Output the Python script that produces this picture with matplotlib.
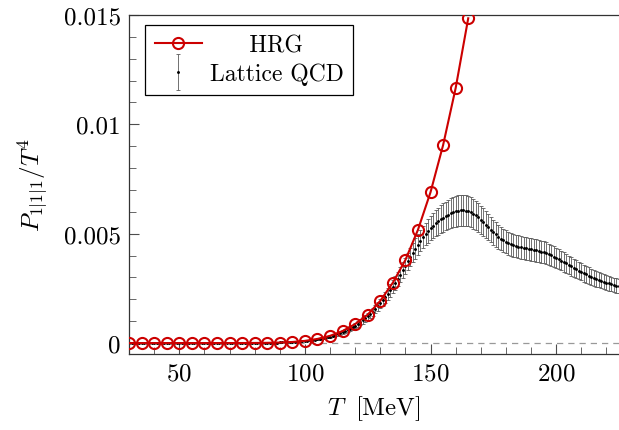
import matplotlib
matplotlib.use("Agg")
import matplotlib.pyplot as plt
from matplotlib.ticker import MultipleLocator, FixedLocator, FixedFormatter
from matplotlib.legend_handler import HandlerErrorbar
import numpy as np

plt.rcParams["font.family"] = "serif"
plt.rcParams["font.serif"] = ["cmr10", "DejaVu Serif"]
plt.rcParams["mathtext.fontset"] = "cm"
plt.rcParams["axes.unicode_minus"] = False
plt.rcParams["axes.formatter.use_mathtext"] = True

# --- HRG curve (T in MeV, value in 1e-3 units) ---
hrg_T = [30, 35, 40, 45, 50, 55, 60, 65, 70, 75, 80, 85, 90, 95, 100,
         105, 110, 115, 120, 125, 130, 135, 140, 145, 150, 155, 160, 165]
hrg_val = [0.0, 0.0, 0.0, 0.0, 0.0, 0.0, 0.0003, 0.0005, 0.001, 0.002,
           0.005, 0.011, 0.024, 0.05, 0.10, 0.19, 0.33, 0.55, 0.87, 1.30,
           1.93, 2.76, 3.80, 5.18, 6.90, 9.05, 11.66, 14.85]

# --- Lattice QCD, 1 MeV steps from 30 to 225 (value and error in 1e-3) ---
lat_T = list(range(30, 226))
lat_val = [
    # 30-59
    0, 0, 0, 0, 0, 0, 0, 0, 0, 0,
    0, 0, 0, 0, 0, 0, 0, 0, 0, 0,
    0, 0, 0, 0, 0, 0, 0, 0, 0, 0,
    # 60-69
    0.001, 0.001, 0.001, 0.001, 0.001, 0.001, 0.001, 0.001, 0.001, 0.001,
    # 70-79
    0.001, 0.002, 0.002, 0.002, 0.003, 0.003, 0.004, 0.004, 0.005, 0.006,
    # 80-89
    0.007, 0.008, 0.009, 0.010, 0.012, 0.014, 0.016, 0.018, 0.021, 0.024,
    # 90-99
    0.028, 0.032, 0.037, 0.042, 0.048, 0.055, 0.062, 0.070, 0.079, 0.089,
    # 100-109
    0.100, 0.112, 0.125, 0.140, 0.157, 0.175, 0.195, 0.218, 0.243, 0.270,
    # 110-119
    0.300, 0.333, 0.369, 0.408, 0.451, 0.498, 0.549, 0.604, 0.663, 0.727,
    # 120-129
    0.796, 0.870, 0.950, 1.035, 1.126, 1.223, 1.327, 1.437, 1.554, 1.678,
    # 130-139
    1.809, 1.948, 2.094, 2.248, 2.410, 2.580, 2.757, 2.941, 3.132, 3.328,
    # 140-149
    3.528, 3.730, 3.932, 4.130, 4.322, 4.505, 4.678, 4.840, 4.990, 5.128,
    # 150-159
    5.254, 5.370, 5.476, 5.572, 5.660, 5.740, 5.812, 5.876, 5.932, 5.980,
    # 160-169
    6.020, 6.050, 6.068, 6.072, 6.060, 6.030, 5.982, 5.916, 5.836, 5.744,
    # 170-179
    5.642, 5.532, 5.418, 5.302, 5.186, 5.072, 4.964, 4.864, 4.774, 4.694,
    # 180-189
    4.624, 4.564, 4.514, 4.472, 4.438, 4.405, 4.376, 4.350, 4.326, 4.304,
    # 190-199
    4.282, 4.260, 4.236, 4.210, 4.180, 4.146, 4.106, 4.060, 4.010, 3.956,
    # 200-209
    3.898, 3.836, 3.772, 3.706, 3.640, 3.574, 3.508, 3.442, 3.378, 3.316,
    # 210-219
    3.256, 3.198, 3.142, 3.088, 3.036, 2.986, 2.938, 2.892, 2.848, 2.806,
    # 220-225
    2.766, 2.728, 2.692, 2.658, 2.626, 2.596,
]
lat_err = [
    # 30-89
    0, 0, 0, 0, 0, 0, 0, 0, 0, 0,
    0, 0, 0, 0, 0, 0, 0, 0, 0, 0,
    0, 0, 0, 0, 0, 0, 0, 0, 0, 0,
    0, 0, 0, 0, 0, 0, 0, 0, 0, 0,
    0.001, 0.001, 0.001, 0.001, 0.001, 0.002, 0.002, 0.002, 0.002, 0.003,
    0.003, 0.003, 0.003, 0.004, 0.004, 0.004, 0.004, 0.004, 0.005, 0.005,
    # 90-99
    0.005, 0.006, 0.007, 0.008, 0.009, 0.010, 0.011, 0.012, 0.014, 0.016,
    # 100-109
    0.018, 0.020, 0.022, 0.025, 0.028, 0.031, 0.034, 0.038, 0.042, 0.046,
    # 110-119
    0.050, 0.055, 0.060, 0.066, 0.072, 0.078, 0.085, 0.092, 0.100, 0.108,
    # 120-129
    0.116, 0.125, 0.134, 0.144, 0.154, 0.165, 0.176, 0.188, 0.200, 0.213,
    # 130-139
    0.226, 0.240, 0.254, 0.268, 0.283, 0.298, 0.313, 0.328, 0.343, 0.358,
    # 140-149
    0.380, 0.400, 0.420, 0.440, 0.460, 0.475, 0.490, 0.505, 0.520, 0.535,
    # 150-159
    0.550, 0.570, 0.590, 0.610, 0.630, 0.645, 0.660, 0.672, 0.683, 0.692,
    # 160-169
    0.700, 0.705, 0.708, 0.708, 0.705, 0.700, 0.692, 0.682, 0.670, 0.657,
    # 170-179
    0.643, 0.628, 0.613, 0.598, 0.583, 0.569, 0.556, 0.545, 0.536, 0.529,
    # 180-189
    0.524, 0.520, 0.518, 0.517, 0.517, 0.517, 0.517, 0.517, 0.517, 0.516,
    # 190-199
    0.515, 0.513, 0.511, 0.508, 0.504, 0.500, 0.495, 0.489, 0.483, 0.476,
    # 200-209
    0.469, 0.461, 0.453, 0.445, 0.437, 0.429, 0.421, 0.413, 0.405, 0.398,
    # 210-219
    0.391, 0.384, 0.378, 0.372, 0.366, 0.361, 0.356, 0.351, 0.347, 0.343,
    # 220-225
    0.339, 0.336, 0.333, 0.330, 0.327, 0.325,
]

yticks = [0, 0.005, 0.01, 0.015]
ytick_labels = ["0", "0.005", "0.01", "0.015"]
xticks = [50, 100, 150, 200]

RED = "#cc0000"

fig = plt.figure(figsize=(6.19, 4.31), dpi=100)
ax = fig.add_axes([129 / 619, 1 - 355 / 431, 490 / 619, 339 / 431])

ax.axhline(0, color="0.6", lw=0.9, ls=(0, (5, 4)), zorder=1)

scale = 1e-3
lat = ax.errorbar(np.array(lat_T), np.array(lat_val) * scale,
                  yerr=np.array(lat_err) * scale, fmt=".", color="black",
                  markersize=2.2, ecolor="0.35", elinewidth=0.6,
                  capsize=1.3, capthick=0.6, zorder=2)

hrg, = ax.plot(hrg_T, np.array(hrg_val) * scale, color=RED, lw=1.5,
               marker="o", markersize=8, markerfacecolor="none",
               markeredgewidth=1.5, zorder=3)

ax.set_xlim(30, 225)
ax.set_ylim(-0.0005, 0.015)

ax.xaxis.set_major_locator(FixedLocator(xticks))
ax.xaxis.set_minor_locator(MultipleLocator(10))
ax.yaxis.set_major_locator(FixedLocator(yticks))
ax.yaxis.set_major_formatter(FixedFormatter(ytick_labels))
ax.yaxis.set_minor_locator(MultipleLocator(0.001))

ax.tick_params(which="both", direction="in", labelsize=18, color="0.3",
               top=False, right=False)
ax.tick_params(which="major", length=7, width=0.8, pad=6)
ax.tick_params(which="minor", length=5, width=0.6)

ax.spines["right"].set_visible(False)
for s in ["left", "bottom", "top"]:
    ax.spines[s].set_linewidth(0.9)
    ax.spines[s].set_color("0.2")

ax.set_xlabel(r"$T\ \;[\mathrm{MeV}]$", fontsize=18, labelpad=6)
ax.set_ylabel(r"$P_{1|1|1}/T^4$", fontsize=18, labelpad=10)

# pad "HRG" with spaces so it sits centred over "Lattice QCD"
leg = ax.legend([hrg, lat], ["     HRG", "Lattice QCD"], loc="upper left",
                bbox_to_anchor=(0.033, 0.97), borderaxespad=0,
                fontsize=17, frameon=True, fancybox=False, framealpha=1,
                edgecolor="black", handlelength=2.0, handletextpad=0.35,
                borderpad=0.4, labelspacing=0.25,
                handler_map={type(lat): HandlerErrorbar(yerr_size=0.75)})
leg.get_frame().set_linewidth(0.9)

fig.savefig("out.png", dpi=100)
